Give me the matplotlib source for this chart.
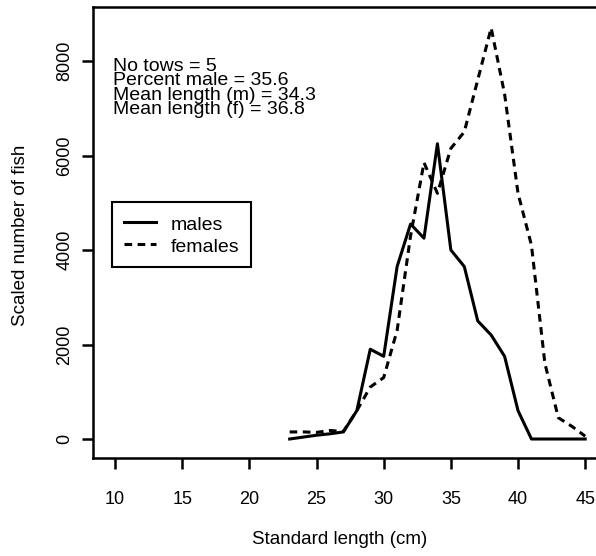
import matplotlib
matplotlib.use('Agg')
import matplotlib.pyplot as plt

# length classes (cm) and scaled counts
length = [23, 24, 25, 26, 27, 28, 29, 30, 31, 32, 33, 34,
          35, 36, 37, 38, 39, 40, 41, 42, 43, 44, 45]
males = [0, 40, 80, 110, 150, 600, 1900, 1750, 3650, 4550, 4250, 6250,
         4000, 3650, 2500, 2200, 1750, 600, 0, 0, 0, 0, 0]
females = [150, 150, 140, 180, 160, 600, 1100, 1300, 2300, 4300, 5850, 5200,
           6150, 6500, 7600, 8700, 7300, 5200, 4100, 1600, 450, 270, 60]

x_ticks = [10, 15, 20, 25, 30, 35, 40, 45]
y_ticks = [0, 2000, 4000, 6000, 8000]

info_lines = ['No tows = 5',
              'Percent male = 35.6',
              'Mean length (m) = 34.3',
              'Mean length (f) = 36.8']

plt.rcParams['font.family'] = ['Liberation Sans', 'DejaVu Sans']

W, H = 596, 556
fig = plt.figure(figsize=(W / 100, H / 100), dpi=100)

# axes box in pixels: left 93, right 604 (cut off by the image), top 7, bottom 458
ax = fig.add_axes([93 / W, (H - 458) / H, (604 - 93) / W, (458 - 7) / H])

ax.plot(length, males, color='black', lw=2.2, label='males')
ax.plot(length, females, color='black', lw=2.2, dashes=(2.5, 1.8), label='females')

ax.set_xlim(8.36, 46.4)
ax.set_ylim(-402, 9143)
ax.set_xticks(x_ticks)
ax.set_yticks(y_ticks)
ax.tick_params(axis='both', direction='out', length=8, width=1.8, labelsize=13)
ax.tick_params(axis='x', pad=16)
ax.tick_params(axis='y', pad=6)
for lab in ax.get_yticklabels():
    lab.set_rotation(90)
    lab.set_va('center')

for s in ax.spines.values():
    s.set_linewidth(1.8)

# stats text as one block, tight line spacing as in the original
fig.text(113 / W, 1 - 58 / H, '\n'.join(info_lines), fontsize=14,
         va='top', ha='left', linespacing=0.8)

leg = ax.legend(loc='upper left', bbox_to_anchor=(112 / W, 1 - 202 / H),
                bbox_transform=fig.transFigure, fontsize=14, frameon=True,
                fancybox=False, framealpha=1, edgecolor='black',
                handlelength=1.65, handletextpad=0.75, borderpad=0.6,
                handleheight=1.1, labelspacing=0.1, borderaxespad=0)
leg.get_frame().set_linewidth(1.5)

fig.text(340 / W, 1 - 540 / H, 'Standard length (cm)', fontsize=13.5,
         ha='center', va='center')
fig.text(21 / W, 1 - 235 / H, 'Scaled number of fish', fontsize=13.5,
         ha='center', va='center', rotation=90)

fig.savefig('out.png', dpi=100)
